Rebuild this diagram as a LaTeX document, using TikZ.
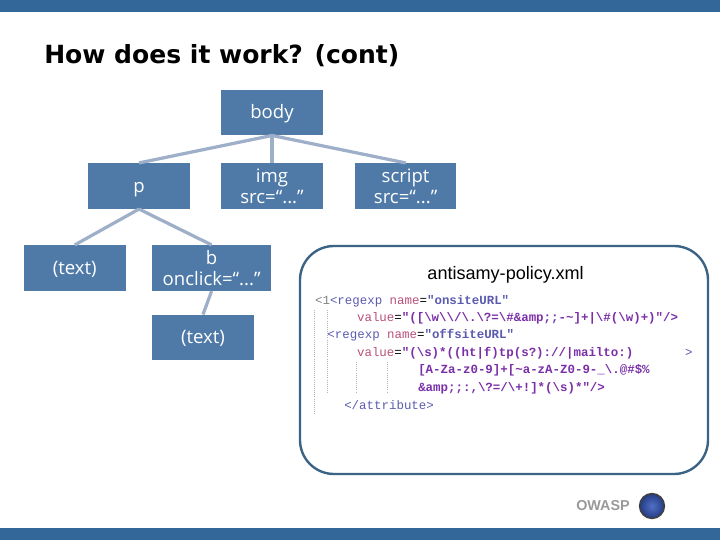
\documentclass[tikz,border=0pt]{standalone}
\usepackage{fontspec}
\setmainfont{Open Sans}
\setmonofont{Liberation Mono}
\newfontfamily\titlefont{DejaVu Sans}
\newfontfamily\arialfont{Liberation Sans}
\definecolor{barblue}{HTML}{336699}
\definecolor{boxblue}{HTML}{4F7AA8}
\definecolor{linkblue}{HTML}{9DAFC9}
\definecolor{frameblue}{HTML}{3B6385}
\definecolor{tagblue}{HTML}{5A5AB0}
\definecolor{attrred}{HTML}{B8507A}
\definecolor{valpurple}{HTML}{7A2FA8}
\definecolor{globelight}{HTML}{5270C4}
\definecolor{globedark}{HTML}{233C86}
\tikzset{
  treebox/.style = {fill = boxblue, text = white, minimum height = 1.14cm, inner sep = 0pt, align = center, font = \fontsize{13.2}{15}\selectfont},
  onelinebox/.style = {treebox, text height = 9pt, text depth = 0pt},
  treelink/.style = {draw = linkblue, line width = 2.3pt},
  codeline/.style = {anchor = west, inner sep = 0pt, font = \ttfamily\fontsize{8.85}{9}\selectfont},
  dotline/.style = {draw = gray!60, densely dotted, line width = 0.5pt}
}
\begin{document}
\begin{tikzpicture}
  \useasboundingbox (0, 0) rectangle (18, 13.5);
  % top and bottom bars
  \fill [barblue] (0, 13.2) rectangle (18, 13.5);
  \fill [barblue] (0, 0) rectangle (18, 0.3);

  % title
  \node (title) [anchor = west, inner sep = 0pt, font = \titlefont\bfseries\fontsize{17.8}{19}\selectfont] at (1.1, 12.12) {How does it work? (cont)};

  % tree nodes
  \node (body) [onelinebox, minimum width = 2.55cm] at (6.8, 10.69) {body};
  \node (p) [onelinebox, minimum width = 2.55cm] at (3.475, 8.85) {p};
  \node (img) [treebox, minimum width = 2.55cm] at (6.8, 8.85) {img\\src=``...''};
  \node (script) [treebox, minimum width = 2.525cm] at (10.14, 8.85) {script\\src=``...''};
  \node (text1) [onelinebox, minimum width = 2.55cm] at (1.87, 6.8) {(text)};
  \node (b) [treebox, minimum width = 2.975cm] at (5.29, 6.8) {b\\onclick=``...''};
  \node (text2) [onelinebox, minimum width = 2.55cm] at (5.075, 5.06) {(text)};

  % tree links
  \draw [treelink] (body.south) -- (p.north);
  \draw [treelink] (body.south) -- (img.north);
  \draw [treelink] (body.south) -- (script.north);
  \draw [treelink] (p.south) -- (text1.north);
  \draw [treelink] (p.south) -- (b.north);
  \draw [treelink] (b.south) -- (text2.north);

  % policy file
  \draw [frameblue, line width = 1.7pt, rounded corners = 0.85cm] (7.5, 1.65) rectangle (17.7, 7.35);
  \node (policy) [inner sep = 0pt, font = \arialfont\fontsize{12.85}{13}\selectfont] at (12.64, 6.64) {antisamy-policy.xml};

  % code lines
  \node (c0) [codeline] at (7.87, 5.97) {\textcolor{gray}{<1}\textcolor{tagblue}{<regexp} \textcolor{attrred}{name}=\textcolor{tagblue}{\bfseries"onsiteURL"}};
  \node (c1) [codeline] at (8.92, 5.54) {\textcolor{attrred}{value}=\textcolor{valpurple}{\bfseries"([\textbackslash w\textbackslash\textbackslash/\textbackslash.\textbackslash?=\textbackslash\#\&amp;;-\textasciitilde]+|\textbackslash\#(\textbackslash w)+)"/>}};
  \node (c2) [codeline] at (8.18, 5.11) {\textcolor{tagblue}{<regexp} \textcolor{attrred}{name}=\textcolor{tagblue}{\bfseries"offsiteURL"}};
  \node (c3) [codeline] at (8.92, 4.67) {\textcolor{attrred}{value}=\textcolor{valpurple}{\bfseries"(\textbackslash s)*((ht|f)tp(s?)://|mailto:)}};
  \node (c4) [codeline] at (10.45, 4.25) {\textcolor{valpurple}{\bfseries[A-Za-z0-9]+[\textasciitilde a-zA-Z0-9-\_\textbackslash.@\#\$\%}};
  \node (c5) [codeline] at (10.45, 3.8) {\textcolor{valpurple}{\bfseries\&amp;;:,\textbackslash?=/\textbackslash+!]*(\textbackslash s)*"/>}};
  \node (c6) [codeline] at (8.6, 3.38) {\textcolor{tagblue}{</attribute>}};
  \node (c7) [codeline] at (17.12, 4.67) {\textcolor{tagblue}{>}};

  % guide lines
  \draw [dotline] (7.85, 5.75) -- (7.85, 3.12);
  \draw [dotline] (8.18, 5.75) -- (8.18, 3.68);
  \draw [dotline] (8.92, 4.45) -- (8.92, 3.68);
  \draw [dotline] (9.68, 4.45) -- (9.68, 3.68);

  % logo
  \node (owasp) [anchor = east, inner sep = 0pt, text = gray!80, font = \arialfont\bfseries\fontsize{10.2}{11}\selectfont] at (15.75, 0.85) {OWASP};
  \node (globe) [circle, minimum size = 0.62cm, inner sep = 0pt, draw = black!75, line width = 1.1pt, inner color = globelight, outer color = globedark] at (16.3, 0.85) {};
\end{tikzpicture}
\end{document}
